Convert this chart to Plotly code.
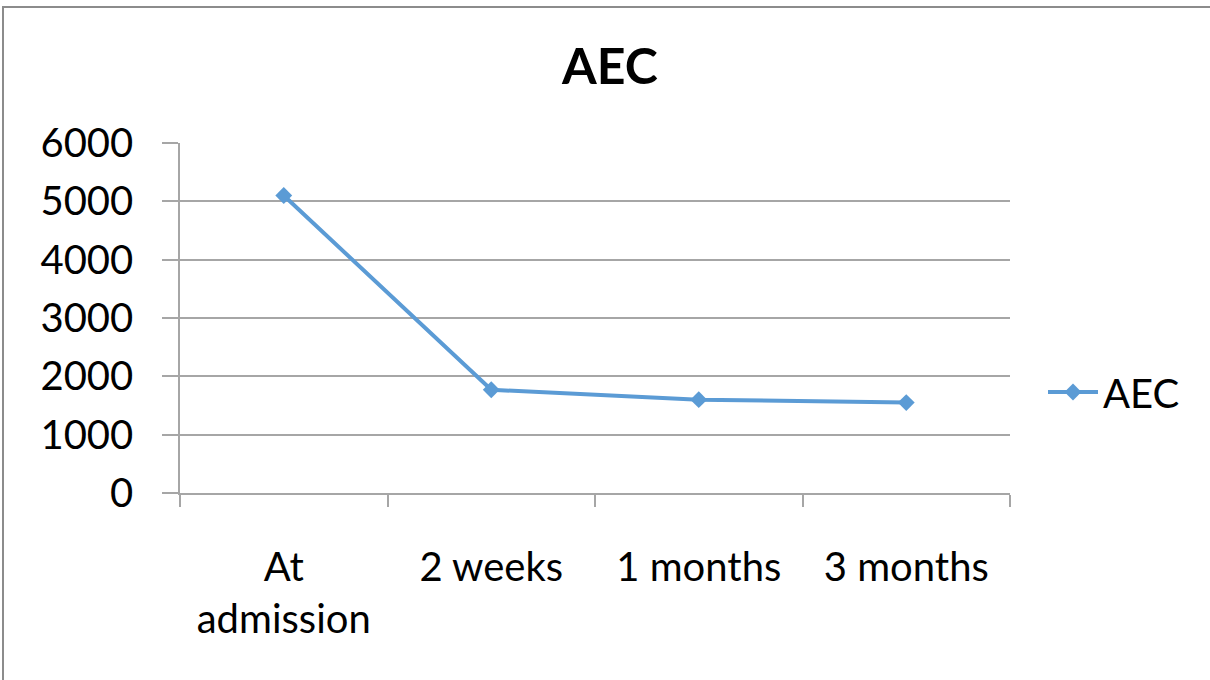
import plotly.graph_objects as go

categories = ["At<br>admission", "2 weeks", "1 months", "3 months"]
aec_values = [5100, 1770, 1600, 1550]
series_name = "AEC"
title_text = "AEC"

FONT = "Lato, Open Sans, sans-serif"
LINE_COLOR = "#5B9BD5"
GRID = "#A6A6A6"

fig = go.Figure()
fig.add_trace(go.Scatter(
    x=categories, y=aec_values, name=series_name,
    mode="lines+markers",
    line=dict(color=LINE_COLOR, width=4),
    marker=dict(symbol="diamond", size=13, color=LINE_COLOR),
))

fig.update_layout(
    width=1210, height=680,
    margin=dict(l=180, r=200, t=143, b=187),
    paper_bgcolor="white", plot_bgcolor="white",
    font=dict(family=FONT, size=40, color="black"),
    title=dict(text="<b>" + title_text + "</b>", x=610 / 1210, xanchor="center",
               y=1 - 66 / 680, yanchor="middle",
               font=dict(family=FONT, size=50, color="black")),
    showlegend=True,
    legend=dict(x=(1043 - 180) / 830, xanchor="left",
                y=0.5 - (392 - 318) / 350, yanchor="middle",
                font=dict(family=FONT, size=40), itemwidth=50,
                bgcolor="rgba(0,0,0,0)"),
    xaxis=dict(
        type="category", range=[-0.5, 3.5],
        showline=True, linecolor=GRID, linewidth=1.5,
        ticks="outside", ticklen=12, tickcolor=GRID, tickwidth=1.5,
        tickson="boundaries", showgrid=False,
        ticklabelstandoff=38,
        tickfont=dict(family=FONT, size=40, color="black"),
    ),
    yaxis=dict(
        range=[0, 6000], dtick=1000,
        showline=True, linecolor=GRID, linewidth=1.5,
        ticks="outside", ticklen=16, tickcolor=GRID, tickwidth=1.5,
        showgrid=True, gridcolor=GRID, gridwidth=1.5,
        zeroline=False,
        ticklabelstandoff=21,
        tickfont=dict(family=FONT, size=40, color="black"),
    ),
    shapes=[dict(type="rect", xref="paper", yref="paper",
                 x0=(3 - 180) / 830, x1=(1215 - 180) / 830,
                 y0=(493 - 690) / 350, y1=(493 - 7) / 350,
                 line=dict(color="#8C8C8C", width=2), layer="below")],
)

fig.write_html("out.html", config={"displayModeBar": False},
               post_script="document.body.style.margin='0';")
